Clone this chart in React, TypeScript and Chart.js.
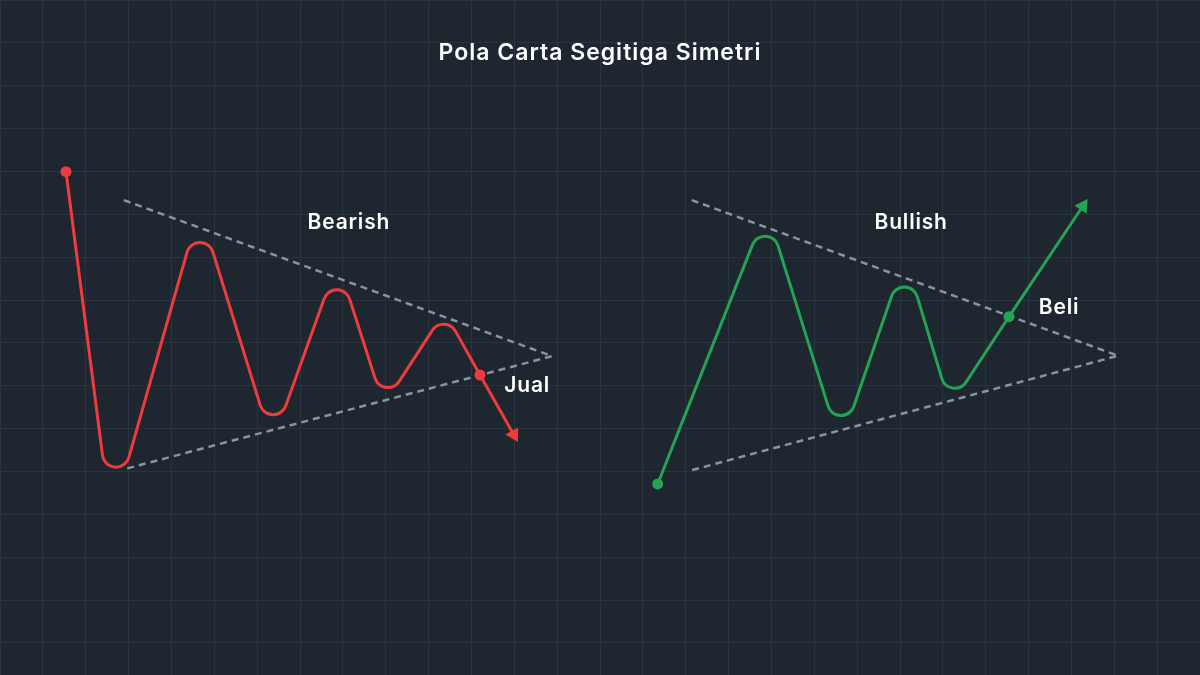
import React, { useEffect, useRef } from "react";
import { Chart, registerables } from "chart.js";

Chart.register(...registerables);

const TITLE = "Pola Carta Segitiga Simetri";

// Bearish price path (grid units): zigzag turning points, break-out dot, arrow end
const bearX = [1.54, 2.588, 4.653, 6.349, 7.877, 8.953, 10.372, 11.2, 11.989];
const bearY = [10.994, 2.85, 10.137, 4.645, 8.901, 5.545, 7.729, 6.25, 4.857];
// Bullish price path
const bullX = [15.346, 17.887, 19.609, 21.121, 22.171, 23.543, 25.268];
const bullY = [3.707, 10.119, 4.607, 9.017, 5.517, 7.61, 10.193];

// Triangle trend lines: [start, apex, start]
const bearTriX = [2.89, 12.88, 2.89];
const bearTriY = [10.33, 6.69, 4.05];
const bullTriX = [16.14, 26.09, 16.14];
const bullTriY = [10.33, 6.7, 4.03];

// Annotation labels
const labelText = ["Bearish", "Jual", "Bullish", "Beli"];
const labelX = [8.14, 12.3, 21.26, 24.71];
const labelY = [9.8, 5.99, 9.8, 7.81];

const BG = "#1e2630";
const GRID = "#29343f";
const RED = "#ef3b3b";
const GREEN = "#23a453";
const DASH = "#8a94a0";
const FONT = "Inter, 'Noto Sans', sans-serif";
const CORNER = 13.5;

const pts = (xs: number[], ys: number[]) => xs.map((x, i) => ({ x, y: ys[i] }));

export default function App() {
  const ref = useRef<HTMLCanvasElement | null>(null);

  useEffect(() => {
    if (!ref.current) return;
    const overlay = {
      id: "overlay",
      beforeDraw(chart: any) {
        const { ctx, width, height } = chart;
        ctx.save();
        ctx.fillStyle = BG;
        ctx.fillRect(0, 0, width, height);
        ctx.restore();
      },
      beforeDatasetDraw(chart: any, args: any) {
        const ds: any = chart.data.datasets[args.index];
        if (!ds.roundedPath) return;
        const p = args.meta.data;
        const ctx = chart.ctx;
        ctx.save();
        ctx.strokeStyle = ds.borderColor;
        ctx.lineWidth = ds.borderWidth;
        ctx.lineJoin = "round";
        ctx.lineCap = "round";
        ctx.beginPath();
        ctx.moveTo(p[0].x, p[0].y);
        for (let i = 1; i < p.length - 1; i++) {
          ctx.arcTo(p[i].x, p[i].y, p[i + 1].x, p[i + 1].y, CORNER);
        }
        ctx.lineTo(p[p.length - 1].x, p[p.length - 1].y);
        ctx.stroke();
        ctx.restore();
      },
      afterDatasetsDraw(chart: any) {
        const { ctx, scales } = chart;
        ctx.save();
        ctx.fillStyle = "#ffffff";
        ctx.textAlign = "center";
        ctx.textBaseline = "middle";
        (ctx as any).letterSpacing = "1px";
        ctx.font = `600 23px ${FONT}`;
        ctx.fillText(TITLE, chart.width / 2, 53);
        (ctx as any).letterSpacing = "0.8px";
        ctx.font = `600 21px ${FONT}`;
        labelText.forEach((t, i) => {
          ctx.fillText(t, scales.x.getPixelForValue(labelX[i]), scales.y.getPixelForValue(labelY[i]));
        });
        ctx.restore();
      },
    };

    const dashed = (xs: number[], ys: number[]) => ({
      data: pts(xs, ys),
      borderColor: DASH,
      borderWidth: 2.5,
      borderDash: [7, 5],
      pointRadius: 0,
      tension: 0,
      order: 2,
    });

    const price = (xs: number[], ys: number[], color: string, arrowRot: number) => {
      const n = xs.length;
      return {
        data: pts(xs, ys),
        roundedPath: true,
        showLine: false,
        borderColor: color,
        backgroundColor: color,
        borderWidth: 3,
        pointRadius: xs.map((_, i) => (i === 0 || i === n - 2 ? 5.5 : i === n - 1 ? 8.5 : 0)),
        pointStyle: xs.map((_, i) => (i === n - 1 ? "triangle" : "circle")) as any,
        rotation: xs.map((_, i) => (i === n - 1 ? arrowRot : 0)),
        pointBorderWidth: 0,
        pointBorderColor: color,
        pointBackgroundColor: color,
        order: 1,
      };
    };

    const chart = new Chart(ref.current, {
      type: "line",
      data: {
        datasets: [
          dashed(bearTriX, bearTriY),
          dashed(bullTriX, bullTriY),
          price(bearX, bearY, RED, 150.6),
          price(bullX, bullY, GREEN, 33.7),
        ] as any,
      },
      options: {
        animation: false,
        responsive: false,
        maintainAspectRatio: false,
        layout: { padding: 0, autoPadding: false },
        plugins: { legend: { display: false }, tooltip: { enabled: false }, title: { display: false } },
        scales: {
          x: {
            type: "linear",
            min: 0,
            max: 28,
            ticks: { display: false, stepSize: 1 },
            grid: { color: GRID, lineWidth: 1, drawTicks: false },
            border: { display: false },
          },
          y: {
            type: "linear",
            min: -0.75,
            max: 15,
            ticks: { display: false, stepSize: 1 },
            grid: { color: GRID, lineWidth: 1, drawTicks: false },
            border: { display: false },
          },
        },
      },
      plugins: [overlay],
    });
    return () => chart.destroy();
  }, []);

  return (
    <div style={{ position: "fixed", left: 0, top: 0, width: 1200, height: 675, background: BG }}>
      <canvas ref={ref} width={1200} height={675} style={{ width: 1200, height: 675, display: "block" }} />
    </div>
  );
}
